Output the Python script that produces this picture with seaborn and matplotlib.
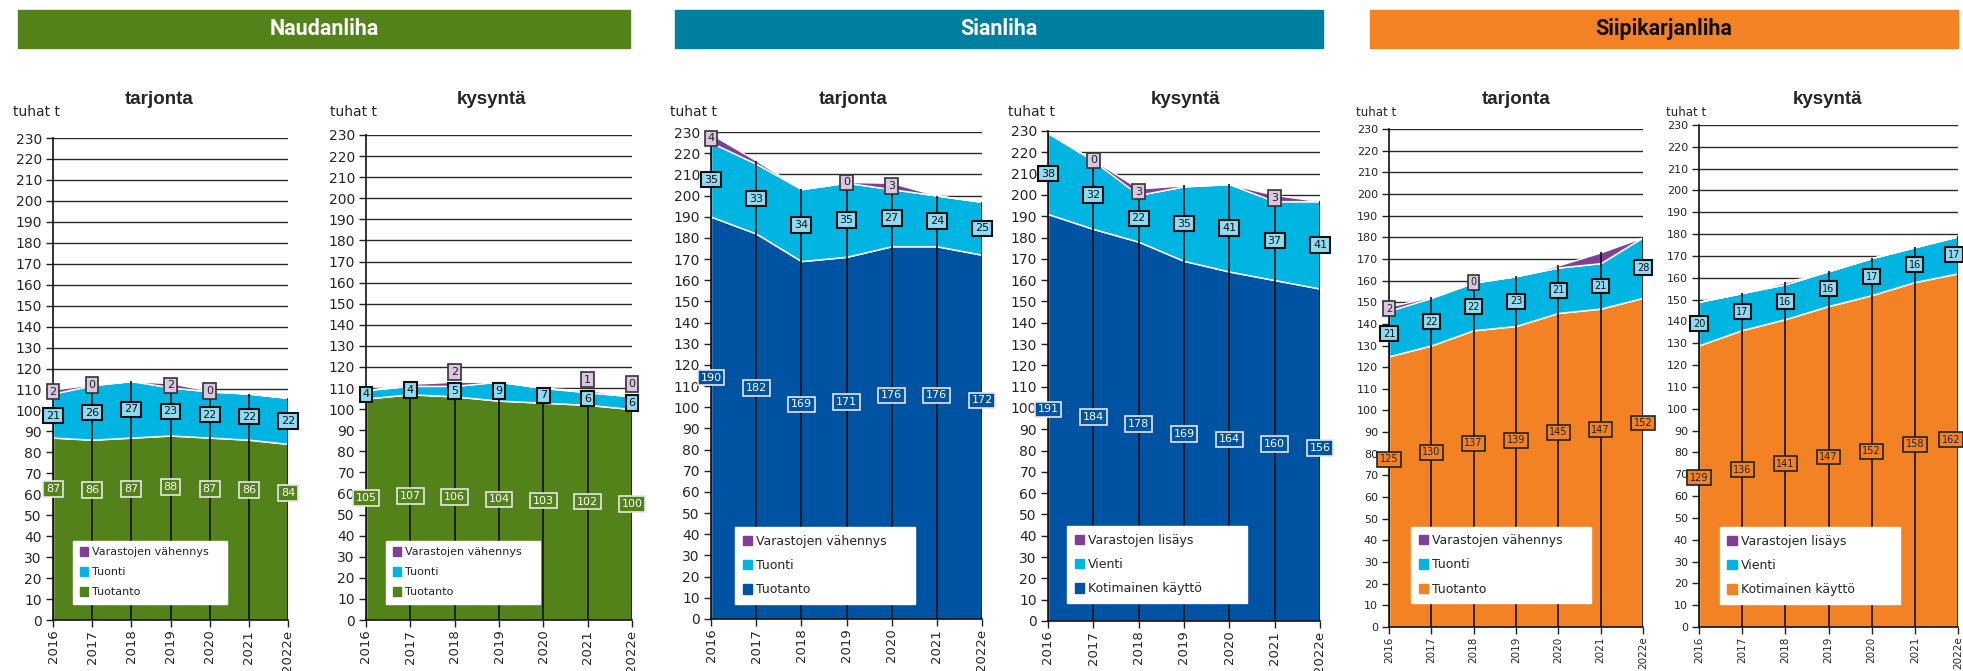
import matplotlib
matplotlib.use("Agg")
import numpy as np
import pandas as pd
import seaborn as sns
from matplotlib import pyplot as plt
from matplotlib.patches import Patch, Rectangle

years = ["2016", "2017", "2018", "2019", "2020", "2021", "2022e"]

# Naudanliha
naud_tarj_tuotanto = [87, 86, 87, 88, 87, 86, 84]
naud_tarj_tuonti = [21, 26, 27, 23, 22, 22, 22]
naud_tarj_varasto = [2, 0.4, 0, 2, 0.4, 0, 0]
naud_tarj_varasto_lab = ["2", "0", "", "2", "0", "", ""]
naud_kys_tuotanto = [105, 107, 106, 104, 103, 102, 100]
naud_kys_tuonti = [4, 4, 5, 9, 7, 6, 6]
naud_kys_varasto = [0, 1, 2, 0, 0, 1, 0.3]
naud_kys_varasto_lab = ["", "", "2", "", "", "1", "0"]

# Sianliha
sian_tarj_tuotanto = [190, 182, 169, 171, 176, 176, 172]
sian_tarj_tuonti = [35, 33, 34, 35, 27, 24, 25]
sian_tarj_varasto = [4, 1.5, 0, 0.4, 3, 0, 0]
sian_tarj_varasto_lab = ["4", "", "", "0", "3", "", ""]
sian_kys_kotim = [191, 184, 178, 169, 164, 160, 156]
sian_kys_vienti = [38, 32, 22, 35, 41, 37, 41]
sian_kys_varasto = [0, 0.4, 3, 0.5, 0, 3, 0]
sian_kys_varasto_lab = ["", "0", "3", "", "", "3", ""]

# Siipikarjanliha
siipi_tarj_tuotanto = [125, 130, 137, 139, 145, 147, 152]
siipi_tarj_tuonti = [21, 22, 22, 23, 21, 21, 28]
siipi_tarj_varasto = [2, 0.5, 0.4, 0, 1, 5, 0]
siipi_tarj_varasto_lab = ["2", "", "0", "", "", "", ""]
siipi_kys_kotim = [129, 136, 141, 147, 152, 158, 162]
siipi_kys_vienti = [20, 17, 16, 16, 17, 16, 17]
siipi_kys_varasto = [0, 0, 1, 0, 0, 0, 0]
siipi_kys_varasto_lab = ["", "", "", "", "", "", ""]

GREEN = "#53821a"
TEAL = "#007fa0"
ORANGE = "#f28224"
BLUE = "#0052a3"
CYAN = "#00b5e2"
PURPLE = "#7f3f98"

sns.set_style("white")
plt.rcParams["font.family"] = ["DejaVu Sans"]

W, H = 1963, 671
fig = plt.figure(figsize=(W / 100, H / 100), dpi=100)

panels = [
    dict(box=(53, 138, 288, 620), title="tarjonta", tx=159,
         data=(naud_tarj_tuotanto, naud_tarj_tuonti, naud_tarj_varasto), lab=naud_tarj_varasto_lab,
         names=("Tuotanto", "Tuonti", "Varastojen vähennys"), base=GREEN, frac=0.72,
         leg=(0.085, 0.033, 0.655), small=False, unit=13),
    dict(box=(366, 135, 632, 620), title="kysyntä", tx=492,
         data=(naud_kys_tuotanto, naud_kys_tuonti, naud_kys_varasto), lab=naud_kys_varasto_lab,
         names=("Tuotanto", "Tuonti", "Varastojen vähennys"), base=GREEN, frac=0.55,
         leg=(0.075, 0.033, 0.58), small=False, unit=330),
    dict(box=(711, 132, 982, 619), title="tarjonta", tx=853,
         data=(sian_tarj_tuotanto, sian_tarj_tuonti, sian_tarj_varasto), lab=sian_tarj_varasto_lab,
         names=("Tuotanto", "Tuonti", "Varastojen vähennys"), base=BLUE, frac=0.6,
         leg=(0.089, 0.031, 0.665), small=False, unit=670),
    dict(box=(1048, 131, 1320, 621), title="kysyntä", tx=1186,
         data=(sian_kys_kotim, sian_kys_vienti, sian_kys_varasto), lab=sian_kys_varasto_lab,
         names=("Kotimainen käyttö", "Vienti", "Varastojen lisäys"), base=BLUE, frac=0.52,
         leg=(0.07, 0.037, 0.66), small=False, unit=1008),
    dict(box=(1389, 129, 1643, 627), title="tarjonta", tx=1516,
         data=(siipi_tarj_tuotanto, siipi_tarj_tuonti, siipi_tarj_varasto), lab=siipi_tarj_varasto_lab,
         names=("Tuotanto", "Tuonti", "Varastojen vähennys"), base=ORANGE, frac=0.62,
         leg=(0.087, 0.048, 0.708), small=True, unit=1356),
    dict(box=(1699, 125, 1958, 627), title="kysyntä", tx=1828,
         data=(siipi_kys_kotim, siipi_kys_vienti, siipi_kys_varasto), lab=siipi_kys_varasto_lab,
         names=("Kotimainen käyttö", "Vienti", "Varastojen lisäys"), base=ORANGE, frac=0.53,
         leg=(0.081, 0.046, 0.695), small=True, unit=1666),
]

x = np.arange(len(years))

for k, p in enumerate(panels):
    l, t, r, b = p["box"]
    ax = fig.add_axes([l / W, 1 - b / H, (r - l) / W, (b - t) / H])
    bottom, mid, top = (np.array(v, dtype=float) for v in p["data"])
    colors = [p["base"], CYAN, PURPLE]
    ax.stackplot(x, bottom, mid, top, colors=colors, zorder=1)
    df = pd.DataFrame({"x": x, "b": bottom, "m": bottom + mid})
    sns.lineplot(data=df, x="x", y="b", color="white", alpha=0.3, lw=0.8, ax=ax, zorder=2)
    sns.lineplot(data=df, x="x", y="m", color="white", alpha=0.25, lw=0.8, ax=ax, zorder=2)
    total = bottom + mid + top
    ax.vlines(x, 0, total, color="#111111", lw=1.2, zorder=3)

    ax.set_xlim(0, 6)
    ax.set_ylim(0, 230)
    ax.set_yticks(range(0, 231, 10))
    ax.set_xticks(x)
    ax.set_xticklabels(years, rotation=90)
    ax.set_xlabel("")
    ax.set_ylabel("")
    tfs = 8 if p["small"] else 10
    xfs = 7.5 if p["small"] else 9.5
    ax.tick_params(axis="y", labelsize=tfs, length=5, width=1, color="#222", pad=3, direction="out", left=True)
    ax.tick_params(axis="x", labelsize=xfs, length=5, width=1, color="#222", pad=2, direction="out", bottom=True)
    ax.yaxis.grid(True, color="#2a2a2a", lw=1)
    ax.xaxis.grid(False)
    ax.set_axisbelow(True)
    for s in ["top", "right"]:
        ax.spines[s].set_visible(False)
    for s in ["left", "bottom"]:
        ax.spines[s].set_color("#111")
        ax.spines[s].set_linewidth(1.2)
        ax.spines[s].set_zorder(4)

    # data labels
    lfs = 7 if p["small"] else 8
    if p["base"] == ORANGE:
        bstyle = dict(fc=ORANGE, ec="#222", lw=1.2)
        bcol = "#222"
    else:
        bstyle = dict(fc=p["base"], ec="#e6e6e6", lw=1.2)
        bcol = "white"
    last_panel = k == len(panels) - 1
    for i in x:
        # keep the rightmost labels of the last panel inside the figure
        if last_panel and i == x[-1]:
            ha, dx = "right", 1.5
        else:
            ha, dx = "center", 0
        kw = dict(textcoords="offset points", xytext=(dx, 0), ha=ha, va="center",
                  fontsize=lfs, annotation_clip=False)
        ax.annotate(f"{bottom[i]:.0f}", (i, bottom[i] * p["frac"]), color=bcol, zorder=6,
                    bbox=dict(boxstyle="square,pad=0.25", **bstyle), **kw)
        mid_y = bottom[i] + mid[i] / 2
        ax.annotate(f"{mid[i]:.0f}", (i, mid_y), color="#111", zorder=6,
                    bbox=dict(boxstyle="square,pad=0.25", fc="#8ddcf3", ec="#111", lw=1.5), **kw)
        if p["lab"][i]:
            top_y = max(bottom[i] + mid[i] + top[i] / 2, mid_y + 9)
            ax.annotate(p["lab"][i], (i, top_y), color="#222", zorder=7,
                        bbox=dict(boxstyle="square,pad=0.25", fc="#d9c7e1", ec="#333", lw=1.2), **kw)

    handles = [Patch(color=c, label=n) for c, n in zip(colors[::-1], p["names"][::-1])]
    x0, y0, w = p["leg"]
    lg_fs = 9 if p["small"] or p["base"] == BLUE else 8
    leg = ax.legend(handles=handles, loc="lower left", bbox_to_anchor=(x0, y0, w, 0.1), mode="expand",
                    fontsize=lg_fs, frameon=True, fancybox=False, framealpha=1, edgecolor="white",
                    handlelength=0.75, handleheight=0.75, handletextpad=0.35, labelspacing=0.9,
                    borderpad=0.6, borderaxespad=0)
    leg.set_zorder(8)

    fig.text(p["tx"] / W, 1 - 99 / H, p["title"], ha="center", va="center",
             fontsize=13.5, fontweight="bold", family="Liberation Sans")
    fig.text(p["unit"] / W, 1 - 112 / H, "tuhat t", ha="left", va="center",
             fontsize=8.5 if p["small"] else 10)

# banners
banners = [("Naudanliha", 18, 630, GREEN, "white"),
           ("Sianliha", 675, 1323, TEAL, "white"),
           ("Siipikarjanliha", 1370, 1958, ORANGE, "#111")]
for name, bl, br, col, tc in banners:
    fig.add_artist(Rectangle((bl / W, 1 - 48 / H), (br - bl) / W, 38 / H,
                             transform=fig.transFigure, color=col, zorder=0))
    fig.text((bl + br) / 2 / W, 1 - 29 / H, name, ha="center", va="center",
             fontsize=15.5, fontweight="bold", color=tc, family="Roboto")

fig.savefig("out.png", dpi=100)
